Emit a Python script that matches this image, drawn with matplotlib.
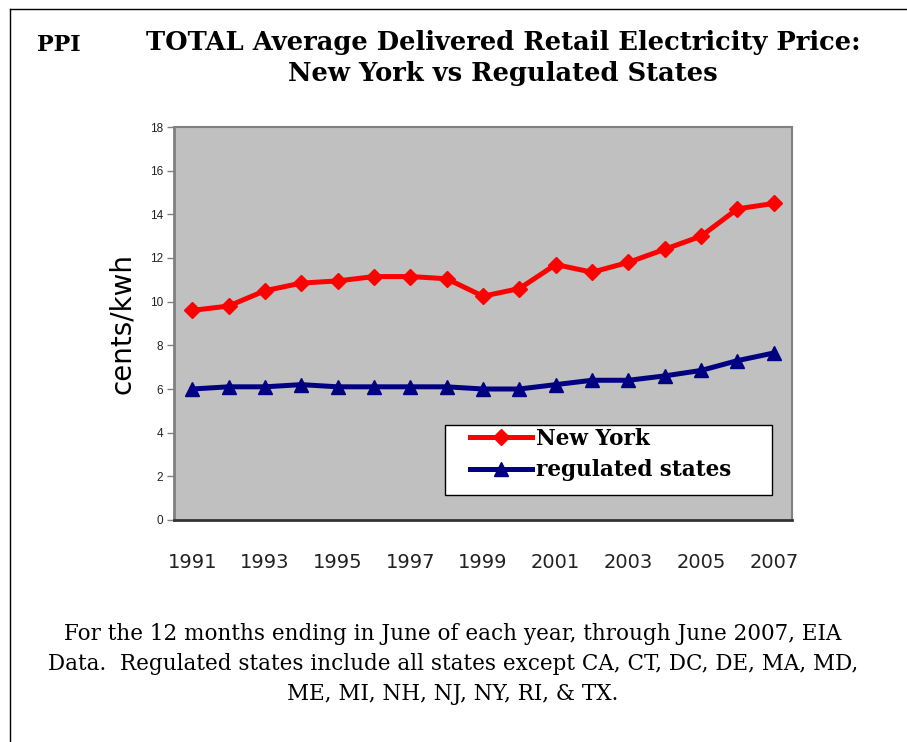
import matplotlib
matplotlib.use("Agg")
import matplotlib.pyplot as plt
from matplotlib.lines import Line2D
from matplotlib.patches import Rectangle

years = list(range(1991, 2008))
new_york = [9.6, 9.8, 10.5, 10.85, 10.95, 11.15, 11.15, 11.05, 10.25, 10.6,
	11.7, 11.35, 11.8, 12.4, 13.0, 14.25, 14.5]
regulated = [6.0, 6.1, 6.1, 6.2, 6.1, 6.1, 6.1, 6.1, 6.0, 6.0,
	6.2, 6.4, 6.4, 6.6, 6.85, 7.3, 7.65]
year_labels = [str(y) for y in years[::2]]
y_ticks = list(range(0, 20, 2))

title_text = "TOTAL Average Delivered Retail Electricity Price:\nNew York vs Regulated States"
note_text = ("For the 12 months ending in June of each year, through June 2007, EIA\n"
	"Data.  Regulated states include all states except CA, CT, DC, DE, MA, MD,\n"
	"ME, MI, NH, NJ, NY, RI, & TX.")

W, H = 907, 742
fig = plt.figure(figsize=(W / 100, H / 100), dpi=100)
fig.patch.set_facecolor("white")

def px(x, y):
	# pixel position (from top-left) -> figure fraction
	return x / W, 1 - y / H

# page frame (left + top edge only)
fig.add_artist(Line2D([10 / W, 10 / W], [0, 1 - 9 / H], transform=fig.transFigure, color="black", lw=1))
fig.add_artist(Line2D([10 / W, 1], [1 - 9 / H, 1 - 9 / H], transform=fig.transFigure, color="black", lw=1))

ax = fig.add_axes([174 / W, 1 - 520 / H, (792 - 174) / W, (520 - 127) / H])
ax.set_facecolor("#c0c0c0")

ax.plot(years, new_york, color="red", lw=3.6, marker="D", markersize=8.5, label="New York", zorder=3)
ax.plot(years, regulated, color="#000080", lw=3.6, marker="^", markersize=9.5, label="regulated states", zorder=3)

ax.set_xlim(years[0] - 0.5, years[-1] + 0.5)
ax.set_ylim(0, 18)
ax.set_yticks(y_ticks)
ax.set_yticklabels([str(t) for t in y_ticks], fontsize=8.5, family="Liberation Sans", color="#222222")
ax.set_xticks(years[::2])
ax.set_xticklabels(year_labels, fontsize=14, family="DejaVu Sans", color="#222222")
ax.tick_params(axis="x", length=0, pad=24)
ax.tick_params(axis="y", length=5, width=1, color="#808080", pad=3)

for side in ["top", "right", "left"]:
	ax.spines[side].set_color("#808080")
	ax.spines[side].set_linewidth(1.5)
ax.spines["left"].set_linewidth(2)
ax.spines["bottom"].set_color("#333333")
ax.spines["bottom"].set_linewidth(2)

ax.set_ylabel("cents/kwh", fontsize=20, family="DejaVu Sans", labelpad=10)

# legend box drawn separately so the handles can sit inset from the frame
fig.add_artist(Rectangle(px(445, 495), (772 - 445) / W, 70 / H, transform=fig.transFigure,
	facecolor="white", edgecolor="black", lw=1, zorder=4))
leg = fig.legend(loc="upper left", bbox_to_anchor=px(470, 428), frameon=False,
	handlelength=2.9, handletextpad=0.15, borderpad=0, labelspacing=0.42, borderaxespad=0,
	prop={"family": "DejaVu Serif", "weight": "bold", "size": 15.5})
leg.set_zorder(5)

fig.text(*px(37, 45), "PPI", fontsize=16, family="DejaVu Serif", weight="bold", va="center", ha="left")
fig.text(*px(503, 58), title_text, fontsize=18.5, family="DejaVu Serif", weight="bold",
	ha="center", va="center", linespacing=1.3)
fig.text(*px(453, 664), note_text, fontsize=15.5, family="DejaVu Serif",
	ha="center", va="center", linespacing=1.48)

fig.savefig("out.png", dpi=100)
